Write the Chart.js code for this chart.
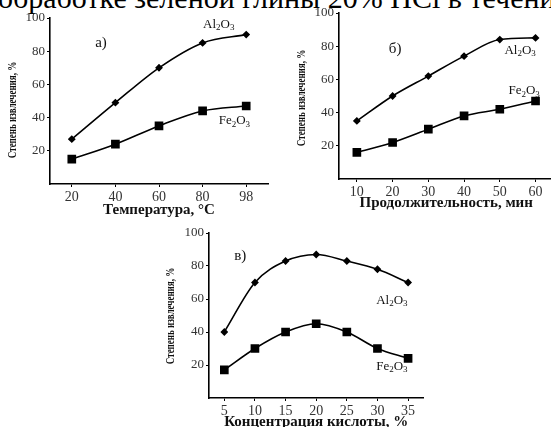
<!DOCTYPE html>
<html>
<head>
<meta charset="utf-8">
<script src="https://cdn.jsdelivr.net/npm/chart.js@4.4.0/dist/chart.umd.min.js"></script>
<style>
  body { margin: 0; width: 551px; height: 427px; overflow: hidden; background: #fff; position: relative; font-family: "Liberation Serif", serif; }
  #cap { position: absolute; left: -2px; top: -17px; font-size: 30px; line-height: 30px; white-space: nowrap; color: #000; }
  canvas { position: absolute; }
</style>
</head>
<body>
<div id="cap">обработке зеленой глины 20% HCl в течени</div>
<canvas id="chA" width="275" height="220" style="left:0;top:0"></canvas>
<canvas id="chB" width="280" height="215" style="left:280px;top:0"></canvas>
<canvas id="chC" width="280" height="211" style="left:150px;top:220px"></canvas>
<script>
// а) temperature
const tempLabels = ["20", "40", "60", "80", "98"];
const tempAl = [27, 49, 70, 85, 90];
const tempFe = [15, 24, 35, 44, 47];

// б) duration
const timeLabels = ["10", "20", "30", "40", "50", "60"];
const timeAl = [35, 50, 62, 74, 84, 85];
const timeFe = [16, 22, 30, 38, 42, 47];

// в) acid concentration
const concLabels = ["5", "10", "15", "20", "25", "30", "35"];
const concAl = [40, 70, 83, 87, 83, 78, 70];
const concFe = [17, 30, 40, 45, 40, 30, 24];

const yTicks = [20, 40, 60, 80, 100];
const yTitle = "Степень извлечения, %";

const SERIF = '"Liberation Serif", "Times New Roman", serif';

// draws "Al2O3" style text, digits as subscripts
function drawFormula(ctx, text, cx, cy, size) {
  const parts = text.match(/[^0-9]+|[0-9]+/g);
  const big = size + "px " + SERIF;
  const small = Math.round(size * 0.72) + "px " + SERIF;
  let w = 0;
  parts.forEach(p => {
    ctx.font = /\d/.test(p) ? small : big;
    w += ctx.measureText(p).width;
  });
  let px = cx - w / 2;
  ctx.textBaseline = "middle";
  ctx.textAlign = "left";
  parts.forEach(p => {
    const sub = /\d/.test(p);
    ctx.font = sub ? small : big;
    ctx.fillText(p, px, sub ? cy + size * 0.25 : cy);
    px += ctx.measureText(p).width;
  });
}

const annotate = {
  id: "annotate",
  afterDatasetsDraw(chart, args, opts) {
    const { ctx, scales } = chart;
    ctx.save();
    ctx.fillStyle = "#111";
    (opts.items || []).forEach(it => {
      drawFormula(ctx, it.text, scales.x.getPixelForValue(it.x), scales.y.getPixelForValue(it.y), it.size);
    });
    // condensed vertical axis title
    const t = opts.ytitle;
    ctx.translate(t.x, t.y);
    ctx.rotate(-Math.PI / 2);
    ctx.scale(t.sx, 1);
    ctx.font = t.weight + " " + t.size + "px " + SERIF;
    ctx.textAlign = "center";
    ctx.textBaseline = "middle";
    ctx.fillText(yTitle, 0, 0);
    ctx.restore();
  },
};

function makeChart(id, labels, al, fe, xTitle, lay, notes, ytitle) {
  const ctx = document.getElementById(id);
  return new Chart(ctx, {
    type: "line",
    data: {
      labels: labels,
      datasets: [
        {
          data: al,
          borderColor: "#000",
          backgroundColor: "#000",
          borderWidth: 1.6,
          pointStyle: "rectRot",
          pointRadius: 2.8,
          cubicInterpolationMode: "monotone",
        },
        {
          data: fe,
          borderColor: "#000",
          backgroundColor: "#000",
          borderWidth: 1.6,
          pointStyle: "rect",
          pointRadius: 5,
          cubicInterpolationMode: "monotone",
        },
      ],
    },
    options: {
      responsive: false,
      animation: false,
      layout: { padding: { top: lay.top, right: lay.right, left: 0, bottom: 0 } },
      plugins: {
        legend: { display: false },
        tooltip: { enabled: false },
        annotate: { items: notes, ytitle: ytitle },
      },
      scales: {
        x: {
          type: "category",
          offset: true,
          border: { color: "#000", width: 1.6 },
          grid: { display: true, drawOnChartArea: false, drawTicks: true, tickLength: 3, color: "#000", offset: false },
          ticks: { color: "#333", font: { family: SERIF, size: 14 }, padding: 2, maxRotation: 0 },
          title: {
            display: true,
            text: xTitle,
            color: "#111",
            font: { family: SERIF, size: 15, weight: "bold" },
            padding: { top: 0, bottom: lay.xtp },
          },
          afterFit(scale) { scale.height = lay.xh; },
        },
        y: {
          min: 0,
          max: 100,
          border: { color: "#000", width: 1.6 },
          grid: { display: true, drawOnChartArea: false, drawTicks: true, tickLength: 3, color: "#000" },
          ticks: { color: "#333", font: { family: SERIF, size: 13 }, padding: 2 },
          afterBuildTicks(scale) { scale.ticks = yTicks.map(v => ({ value: v })); },
          afterFit(scale) { scale.width = lay.yw; },
        },
      },
    },
    plugins: [annotate],
  });
}

makeChart("chA", tempLabels, tempAl, tempFe, "Температура, °С",
  { top: 18, right: 7, yw: 50, xh: 36, xtp: 1 },
  [
    { text: "а)", x: 0.67, y: 85, size: 15 },
    { text: "Al2O3", x: 3.37, y: 96, size: 13 },
    { text: "Fe2O3", x: 3.73, y: 38, size: 13 },
  ],
  { x: 13, y: 110, size: 12, sx: 0.75, weight: "bold" });

makeChart("chB", timeLabels, timeAl, timeFe, "Продолжительность, мин",
  { top: 13, right: 6, yw: 59, xh: 36, xtp: 3 },
  [
    { text: "б)", x: 1.07, y: 78, size: 15 },
    { text: "Al2O3", x: 4.57, y: 77.5, size: 13 },
    { text: "Fe2O3", x: 4.68, y: 53, size: 13 },
  ],
  { x: 22, y: 98, size: 12, sx: 0.75, weight: "bold" });

makeChart("chC", concLabels, concAl, concFe, "Концентрация кислоты, %",
  { top: 13, right: 6, yw: 59, xh: 33, xtp: 0 },
  [
    { text: "в)", x: 0.52, y: 86, size: 15 },
    { text: "Al2O3", x: 5.47, y: 59, size: 13 },
    { text: "Fe2O3", x: 5.47, y: 19, size: 13 },
  ],
  { x: 21, y: 96, size: 12, sx: 0.75, weight: "bold" });
</script>
</body>
</html>
